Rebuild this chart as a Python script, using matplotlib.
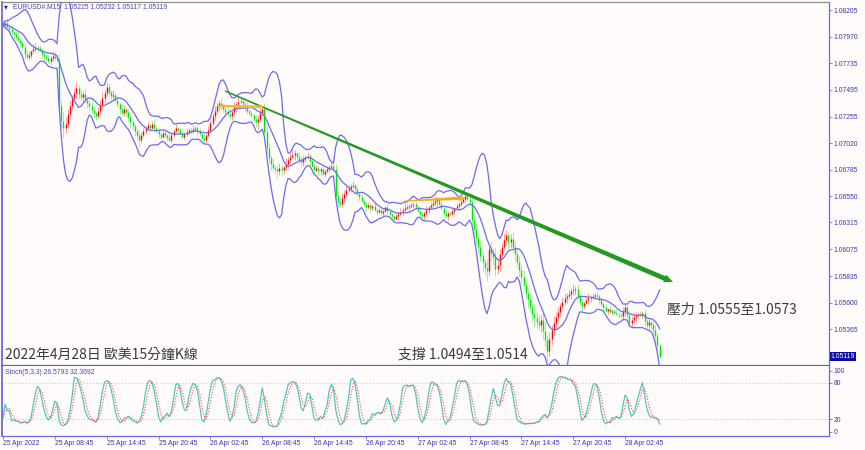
import numpy as np
import pandas as pd
import matplotlib
matplotlib.use("Agg")
import matplotlib.pyplot as plt
from matplotlib.patches import Polygon
from matplotlib.transforms import IdentityTransform, blended_transform_factory

plt.rcParams['font.family'] = ['Noto Sans CJK TC', 'DejaVu Sans']

# ---------------- data ----------------
symbol_header = "EURUSD#,M15  1.05225 1.05232 1.05117 1.05119"
stoch_header = "Stoch(5,3,3) 26.5793 32.3692"
first_open = 1.0809
closes = [
    1.0807, 1.0809, 1.0806, 1.0804, 1.0801, 1.0799, 1.0797, 1.0794, 1.0791, 1.0788,
    1.0782, 1.0779, 1.0781, 1.0784, 1.0786, 1.0788, 1.0787, 1.0785, 1.0782, 1.0780,
    1.0778, 1.0775, 1.0778, 1.0780, 1.0778, 1.0776, 1.0735, 1.0722, 1.0716, 1.0719,
    1.0728, 1.0735, 1.0742, 1.0747, 1.0751, 1.0746, 1.0743, 1.0746, 1.0741, 1.0738,
    1.0735, 1.0732, 1.0729, 1.0726, 1.0731, 1.0736, 1.0742, 1.0747, 1.0752, 1.0748,
    1.0744, 1.0745, 1.0741, 1.0737, 1.0733, 1.0729, 1.0733, 1.0730, 1.0725, 1.0721,
    1.0717, 1.0713, 1.0709, 1.0705, 1.0709, 1.0713, 1.0716, 1.0718, 1.0716, 1.0719,
    1.0716, 1.0713, 1.0710, 1.0708, 1.0711, 1.0709, 1.0707, 1.0705, 1.0709, 1.0713,
    1.0716, 1.0714, 1.0711, 1.0708, 1.0710, 1.0712, 1.0714, 1.0713, 1.0715, 1.0716,
    1.0713, 1.0710, 1.0707, 1.0705, 1.0709, 1.0714, 1.0720, 1.0726, 1.0731, 1.0735,
    1.0738, 1.0735, 1.0733, 1.0730, 1.0728, 1.0726, 1.0730, 1.0734, 1.0737, 1.0739,
    1.0740, 1.0737, 1.0734, 1.0731, 1.0729, 1.0727, 1.0724, 1.0721, 1.0724, 1.0729,
    1.0733, 1.0712, 1.0698, 1.0689, 1.0684, 1.0680, 1.0679, 1.0677, 1.0680, 1.0678,
    1.0681, 1.0684, 1.0687, 1.0690, 1.0692, 1.0693, 1.0690, 1.0687, 1.0685, 1.0688,
    1.0690, 1.0691, 1.0686, 1.0682, 1.0678, 1.0680, 1.0677, 1.0679, 1.0675, 1.0677,
    1.0679, 1.0681, 1.0682, 1.0679, 1.0655, 1.0650, 1.0648, 1.0653, 1.0657, 1.0660,
    1.0662, 1.0664, 1.0665, 1.0661, 1.0657, 1.0654, 1.0651, 1.0648, 1.0645, 1.0647,
    1.0644, 1.0646, 1.0643, 1.0641, 1.0643, 1.0640, 1.0642, 1.0645, 1.0642, 1.0639,
    1.0637, 1.0635, 1.0637, 1.0639, 1.0641, 1.0643, 1.0644, 1.0645, 1.0646, 1.0647,
    1.0648, 1.0645, 1.0642, 1.0639, 1.0637, 1.0640, 1.0643, 1.0645, 1.0647, 1.0649,
    1.0651, 1.0652, 1.0648, 1.0644, 1.0640, 1.0637, 1.0640, 1.0639, 1.0642, 1.0644,
    1.0646, 1.0648, 1.0650, 1.0652, 1.0655, 1.0652, 1.0650, 1.0634, 1.0626, 1.0618,
    1.0610, 1.0602, 1.0596, 1.0591, 1.0588, 1.0608, 1.0604, 1.0601, 1.0590, 1.0594,
    1.0603, 1.0610, 1.0616, 1.0620, 1.0614, 1.0617, 1.0610, 1.0603, 1.0596, 1.0589,
    1.0583, 1.0576, 1.0569, 1.0563, 1.0556, 1.0550, 1.0546, 1.0543, 1.0540, 1.0545,
    1.0535, 1.0527, 1.0517, 1.0528, 1.0536, 1.0542, 1.0547, 1.0552, 1.0557, 1.0561,
    1.0564, 1.0566, 1.0568, 1.0570, 1.0571, 1.0572, 1.0566, 1.0561, 1.0557, 1.0560,
    1.0562, 1.0564, 1.0565, 1.0566, 1.0567, 1.0566, 1.0562, 1.0559, 1.0556, 1.0553,
    1.0554, 1.0552, 1.0553, 1.0551, 1.0550, 1.0549, 1.0548, 1.0553, 1.0556, 1.0549,
    1.0542, 1.0545, 1.0547, 1.0549, 1.0550, 1.0549, 1.0551, 1.0544, 1.0540, 1.0543,
    1.0540, 1.0536, 1.0530, 1.05225, 1.05119,
]
# upper / lower wick lengths, in steps of wick_unit
wick_unit = 0.00015
wick_up = [
    2,1,3,1,2,1,2,3,1,2,1,2,2,1,3,2,1,2,1,2,
    1,2,1,3,2,2,4,3,5,4,3,3,2,3,4,2,3,2,3,2,
    2,3,2,1,2,3,4,2,3,2,1,3,2,2,1,3,2,1,2,2,
    1,2,1,3,2,2,1,2,1,2,3,1,2,1,2,2,1,3,2,1,
    2,1,1,2,1,2,1,1,2,1,1,2,1,2,1,2,3,2,3,2,
    2,3,2,1,3,2,1,3,2,4,2,1,2,3,1,2,1,2,2,3,
    2,3,4,3,2,3,2,2,3,2,1,3,2,2,3,2,1,3,2,2,
    1,2,1,2,1,2,1,1,2,1,2,1,2,2,3,3,2,3,2,3,
    2,1,2,1,2,1,2,1,1,2,1,1,2,1,1,2,1,1,2,1,
    1,1,2,1,2,1,3,2,1,2,1,2,1,1,2,1,2,1,2,3,
    3,2,1,2,1,2,1,1,2,1,2,1,2,2,1,2,2,3,3,4,
    3,4,3,2,5,3,4,3,5,4,3,2,4,3,2,3,4,3,3,4,
    3,4,3,3,4,3,5,3,4,3,4,5,3,4,3,4,3,3,2,3,
    3,2,3,2,4,2,3,2,2,1,2,3,1,2,1,2,1,2,1,2,
    1,2,1,1,2,1,2,2,3,2,1,2,3,2,1,2,1,2,1,2,
    1,2,3,2,0,
]
wick_dn = [
    1,2,1,2,1,3,2,1,2,2,3,1,2,2,1,1,2,1,2,3,
    2,1,2,2,1,1,3,4,6,3,2,3,2,2,3,3,2,3,2,3,
    3,2,3,2,1,2,2,3,2,2,3,2,1,2,3,2,2,3,2,3,
    2,3,2,4,2,1,2,1,2,1,2,1,2,2,1,1,2,1,2,1,
    1,2,1,1,2,1,1,2,1,1,2,1,1,2,1,1,2,1,2,2,
    3,2,2,3,2,1,2,2,3,2,1,2,3,2,2,1,2,3,4,2,
    2,4,3,3,4,2,3,4,2,3,2,2,3,2,1,3,2,2,3,2,
    2,1,2,1,2,1,2,2,1,2,1,2,1,1,4,3,2,2,3,2,
    1,2,1,2,1,2,1,2,2,1,2,1,1,2,1,1,2,1,2,1,
    2,1,1,2,1,2,1,1,2,1,2,1,1,2,1,2,1,2,1,2,
    2,3,2,1,2,1,2,1,1,2,1,2,1,1,2,1,2,4,3,4,
    4,3,5,4,6,3,4,5,4,3,4,3,2,3,4,3,3,4,3,4,
    4,3,4,5,3,4,5,4,3,4,5,4,6,3,4,3,3,2,3,2,
    2,3,2,3,2,3,2,2,3,2,1,2,2,1,2,1,2,1,2,1,
    2,1,2,1,1,2,1,2,3,3,2,3,2,3,2,1,2,3,2,2,
    2,3,4,3,0,
]
price_ticks = [1.08205, 1.07970, 1.07735, 1.07495, 1.07255, 1.07020, 1.06785,
               1.06550, 1.06315, 1.06075, 1.05835, 1.05600, 1.05365]
last_price = 1.05119
time_labels = ["25 Apr 2022", "25 Apr 08:45", "25 Apr 14:45", "25 Apr 20:45",
               "26 Apr 02:45", "26 Apr 08:45", "26 Apr 14:45", "26 Apr 20:45",
               "27 Apr 02:45", "27 Apr 08:45", "27 Apr 14:45", "27 Apr 20:45",
               "28 Apr 02:45"]
time_label_bars = [0, 24, 48, 72, 96, 120, 144, 168, 192, 216, 240, 264, 288]
stoch_levels = [0, 20, 80, 100]
bb_period, bb_dev = 10, 3.0

# drawn objects (bar index, price)
trend_bars, trend_prices = [102.8, 310.2], [1.07486, 1.05784]
orange1_bars, orange1_prices = [99.5, 120.8], [1.07353, 1.07344]
orange2_bars, orange2_prices = [185.6, 213.9], [1.06506, 1.06533]
title_text = "2022年4月28日 歐美15分鐘K線"
support_text = "支撐 1.0494至1.0514"
resist_text = "壓力 1.0555至1.0573"
title_pos = (0.9, 1.05134)
support_pos = (182.9, 1.05134)
resist_pos = (307.4, 1.05535)

# ---------------- computation ----------------
c = np.array(closes)
n = len(c)
x = np.arange(n)
o = np.r_[first_open, c[:-1]]
h = np.maximum(o, c) + np.array(wick_up[:n]) * wick_unit
l = np.minimum(o, c) - np.array(wick_dn[:n]) * wick_unit

s = pd.Series(c)
mid = s.rolling(bb_period, min_periods=1).mean()
sd = s.rolling(bb_period, min_periods=1).std(ddof=0)
upper = mid + bb_dev * sd
lower = mid - bb_dev * sd

hh = pd.Series(h).rolling(5, min_periods=1).max()
ll = pd.Series(l).rolling(5, min_periods=1).min()
num = (s - ll).rolling(3, min_periods=1).sum()
den = (hh - ll).rolling(3, min_periods=1).sum()
k = 100 * num / den
d = k.rolling(3, min_periods=1).mean()

# ---------------- figure ----------------
W, H = 865, 450
BG = '#FFFBFA'
BLUE_AX = '#6A6AE6'
LBL = '#3838B0'
fig = plt.figure(figsize=(W / 100, H / 100), dpi=100, facecolor=BG)

def fx(px):
    return px / W

def fy(py):
    return 1 - py / H

ax = fig.add_axes([fx(2), fy(366), fx(829) - fx(2), fy(2) - fy(366)], facecolor=BG)
ax2 = fig.add_axes([fx(2), fy(436), fx(829) - fx(2), fy(366) - fy(436)], facecolor=BG)

xmin, xmax = -0.46, 382.4
ax.set_xlim(xmin, xmax)
ax2.set_xlim(xmin, xmax)
ax.set_ylim(1.05036, 1.08279)
ax2.set_ylim(-7.2, 107.8)

up = c >= o
# wicks
ax.vlines(x[up], l[up], h[up], color='#F4A0A0', lw=0.7, zorder=2)
ax.vlines(x[~up], l[~up], h[~up], color='#A0EEA0', lw=0.7, zorder=2)
# bodies
ax.vlines(x[up], o[up], c[up], color='#FF0000', lw=1.0, zorder=2.5)
ax.vlines(x[~up], c[~up], o[~up], color='#00E400', lw=1.0, zorder=2.5)

bb_col = '#6C6CEE'
for ser in (upper, mid, lower):
    ax.plot(x, ser.values, color=bb_col, lw=0.9, zorder=3)

# stochastic
ax2.plot(x, k.values, color='#52C6BE', lw=0.9, zorder=3)
ax2.plot(x, d.values, color='#FF4A4A', lw=0.8, ls=(0, (1, 1.5)), zorder=3)
for lev in (20, 80):
    ax2.axhline(lev, color='#C4C4C4', lw=0.7, ls=(0, (1, 2)), zorder=1)

# axes styling
for a in (ax, ax2):
    for sp in a.spines.values():
        sp.set_color(BLUE_AX)
        sp.set_linewidth(0.9)
ax.spines['top'].set_color('#8C8C8C')
ax.spines['bottom'].set_linewidth(1.6)
ax.spines['bottom'].set_color('#5A5AD8')
ax.spines['left'].set_linewidth(1.3)
ax2.spines['left'].set_linewidth(1.3)
ax2.spines['top'].set_visible(False)

tick_font = dict(family='Liberation Sans', size=4.9, color=LBL)

ax.set_xticks([])
ax.yaxis.tick_right()
ax.set_yticks(price_ticks)
ax.set_yticklabels([f"{v:.5f}" for v in price_ticks], **tick_font)
ax.tick_params(axis='y', length=2.2, width=0.6, color=BLUE_AX, pad=1.2)

ax2.yaxis.tick_right()
ax2.set_yticks(stoch_levels)
ax2.set_yticklabels([str(v) for v in stoch_levels], **tick_font)
ax2.tick_params(axis='y', length=2.2, width=0.6, color=BLUE_AX, pad=1.2)
ax2.set_xticks(time_label_bars)
ax2.set_xticklabels(time_labels, ha='left', **tick_font)
ax2.tick_params(axis='x', length=2.0, width=0.6, color=BLUE_AX, pad=1.2)

# current price box
bt = blended_transform_factory(ax.transAxes, ax.transData)
ax.text(1.002, last_price, f"{last_price:.5f}", transform=bt, ha='left', va='center',
        family='Liberation Sans', size=4.9, color='white', clip_on=False, zorder=6,
        bbox=dict(facecolor='#0A0AA8', edgecolor='none', pad=0.8))

# headers
fig.text(fx(4), fy(7), "▼", family='DejaVu Sans', size=3.6, color='#202080', va='center', ha='left')
fig.text(fx(13), fy(7), symbol_header, family='Liberation Sans', size=4.9, color='#4646C0',
         va='center', ha='left')
fig.text(fx(5), fy(372.5), stoch_header, family='Liberation Sans', size=4.9, color='#4646C0',
         va='center', ha='left')

# tapered arrows in pixel space
def tapered_arrow(a, bars, prices, w0, w1, head_len, head_w, color, z=4):
    p0 = a.transData.transform((bars[0], prices[0]))
    p1 = a.transData.transform((bars[1], prices[1]))
    dv = p1 - p0
    L = np.hypot(*dv)
    u = dv / L
    nv = np.array([-u[1], u[0]])
    base = p1 - u * head_len
    pts = [p0 + nv * w0 / 2, base + nv * w1 / 2, base + nv * head_w / 2, p1,
           base - nv * head_w / 2, base - nv * w1 / 2, p0 - nv * w0 / 2]
    poly = Polygon(pts, closed=True, facecolor=color, edgecolor='none',
                   transform=IdentityTransform(), zorder=z, clip_on=False)
    fig.patches.append(poly)

tapered_arrow(ax, trend_bars, trend_prices, 1.5, 4.8, 9, 8, '#229A22')
tapered_arrow(ax, orange1_bars, orange1_prices, 2.2, 2.8, 4, 3.6, '#FFB52A')
tapered_arrow(ax, orange2_bars, orange2_prices, 1.0, 3.4, 6, 6, '#F7AE1E')

# annotation texts
txt_style = dict(size=10, color='#3A3A3A', va='center', ha='left', zorder=6)
ax.text(title_pos[0], title_pos[1], title_text, **txt_style)
ax.text(support_pos[0], support_pos[1], support_text, **txt_style)
ax.text(resist_pos[0], resist_pos[1], resist_text, **txt_style)

fig.savefig("out.png", dpi=100, facecolor=BG)
